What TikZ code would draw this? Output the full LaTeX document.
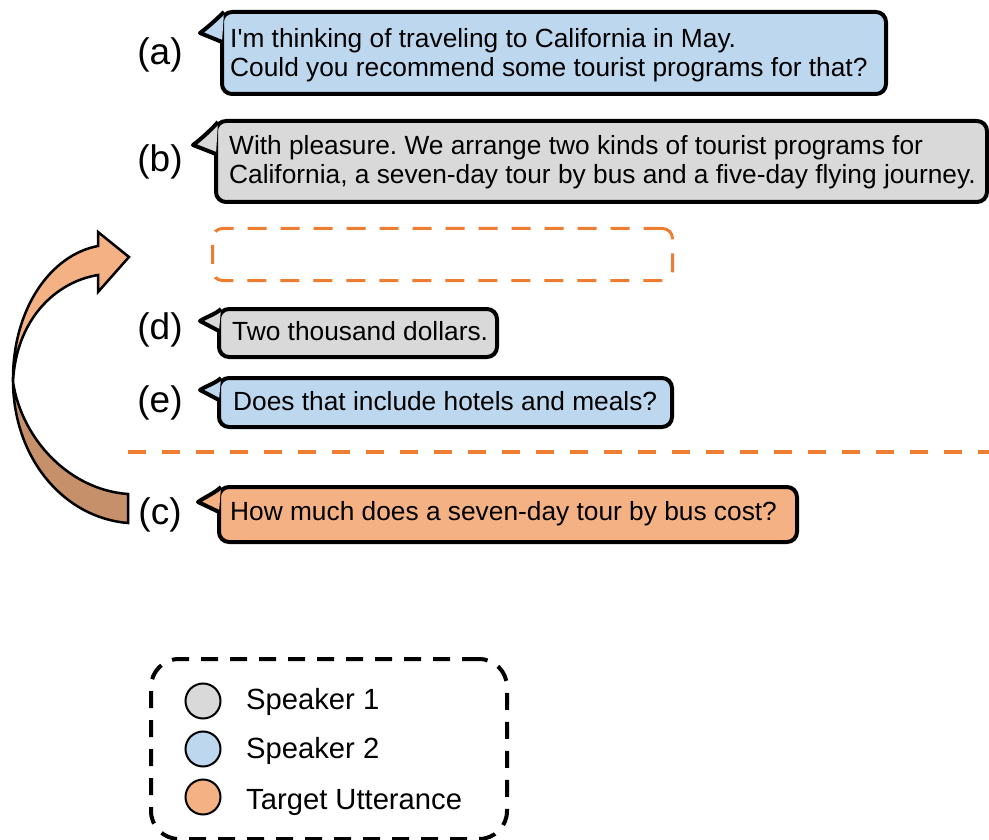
\documentclass[tikz,border=0pt]{standalone}
\usepackage{fontspec}
\setmainfont{Liberation Sans}[Ligatures=TeXOff]
\usetikzlibrary{calc}
\definecolor{spkone}{HTML}{D9D9D9}
\definecolor{spktwo}{HTML}{BDD7EE}
\definecolor{tgt}{HTML}{F4B183}
\definecolor{tgtline}{HTML}{ED7D31}
\definecolor{tgtdark}{HTML}{C5906A}
\begin{document}
\frenchspacing
\begin{tikzpicture}[x=1pt,y=-1pt,
  bubble/.style={draw=black, line width=4pt, rounded corners=10pt, anchor=north west, inner sep=0pt},
  btext/.style={anchor=base west, inner sep=0pt, align=left, font=\fontsize{26.3}{29.5}\selectfont},
  tail/.style={draw=black, line width=4pt, line join=round},
  lab/.style={font=\fontsize{37}{37}\selectfont, anchor=base, inner sep=0pt},
  slot/.style={draw=tgtline, line width=3pt, dash pattern=on 19pt off 14pt, rounded corners=10pt,
    anchor=north west, inner sep=0pt},
  sep/.style={draw=tgtline, line width=3.5pt, dash pattern=on 18pt off 16pt},
  legbox/.style={draw=black, line width=4pt, dash pattern=on 17pt off 12pt, rounded corners=28pt,
    anchor=north west, inner sep=0pt},
  dot/.style={circle, draw=black, line width=2pt, minimum size=35pt, inner sep=0pt},
  legtext/.style={font=\fontsize{29.2}{30}\selectfont, anchor=west, inner sep=0pt},
  arrowpart/.style={draw=black, line width=2.5pt, line join=miter}
]
\useasboundingbox (0,0) rectangle (989,840);

% curved arrow
\filldraw[arrowpart, fill=tgtdark] (13,382) .. controls (14,460) and (65,518) .. (128,523)
  -- (128,494) .. controls (70,490) and (22,440) .. (13,382) -- cycle;
\filldraw[arrowpart, fill=tgt] (13,382) .. controls (12,310) and (50,255) .. (98,246)
  -- (98,232) -- (129,257) -- (98,292) -- (98,275) .. controls (55,282) and (16,320) .. (13,382) -- cycle;

% bubbles
\node[bubble, fill=spktwo, minimum width=664pt, minimum height=82pt] (a) at (220,10) {};
\node[bubble, fill=spkone, minimum width=771pt, minimum height=81pt] (b) at (214,119) {};
\node[slot, minimum width=460pt, minimum height=52pt] (slot) at (211,227) {};
\node[bubble, fill=spkone, minimum width=278pt, minimum height=48pt] (d) at (217,307) {};
\node[bubble, fill=spktwo, minimum width=453pt, minimum height=49pt] (e) at (217,376) {};
\node[bubble, fill=tgt, minimum width=578pt, minimum height=55pt] (c) at (217,485) {};

% tails
\filldraw[tail, fill=spktwo] ($(a.north west)+(4,2)$) .. controls +(-6,6) and +(7,-5) .. ($(a.north west)+(-20,23)$) -- ($(a.north west)+(2,32)$);
\filldraw[tail, fill=spkone] ($(b.north west)+(4,3)$) .. controls +(-6,7) and +(7,-5) .. ($(b.north west)+(-21,26)$) -- ($(b.north west)+(2,35)$);
\filldraw[tail, fill=spkone] ($(d.north west)+(4,2)$) .. controls +(-5,5) and +(6,-4) .. ($(d.north west)+(-17,14)$) -- ($(d.north west)+(2,24)$);
\filldraw[tail, fill=spktwo] ($(e.north west)+(4,2)$) .. controls +(-5,5) and +(6,-4) .. ($(e.north west)+(-17,14)$) -- ($(e.north west)+(2,24)$);
\filldraw[tail, fill=tgt] ($(c.north west)+(4,2)$) .. controls +(-6,6) and +(7,-5) .. ($(c.north west)+(-19,17)$) -- ($(c.north west)+(2,27)$);

% bubble texts
\node[btext] (ta) at ($(a.north west)+(10,67)$)
  {I'm thinking of traveling to California in May.\\Could you recommend some tourist programs for that?};
\node[btext] (tb) at ($(b.north west)+(15,65)$)
  {With pleasure. We arrange two kinds of tourist programs for\\California, a seven-day tour by bus and a five-day flying journey.};
\node[btext] (td) at ($(d.north west)+(15,33)$) {Two thousand dollars.};
\node[btext] (te) at ($(e.north west)+(16,34)$) {Does that include hotels and meals?};
\node[btext] (tc) at ($(c.north west)+(13,35)$) {How much does a seven-day tour by bus cost?};

% labels
\node[lab] (la) at (160,65) {(a)};
\node[lab] (lb) at (160,172) {(b)};
\node[lab] (ld) at (160,339) {(d)};
\node[lab] (le) at (160,412) {(e)};
\node[lab] (lc) at (160,524) {(c)};

% separator
\coordinate (s1) at (128,452);
\coordinate (s2) at (989,452);
\draw[sep] (s1) -- (s2);

% legend
\node[legbox, minimum width=356pt, minimum height=180pt] (leg) at (149,657) {};
\node[dot, fill=spkone] (l1) at (203,701) {};
\node[dot, fill=spktwo] (l2) at (203,749) {};
\node[dot, fill=tgt] (l3) at (203,797) {};
\node[legtext] (t1) at (246,702) {Speaker 1};
\node[legtext] (t2) at (246,751) {Speaker 2};
\node[legtext] (t3) at (246,802) {Target Utterance};
\end{tikzpicture}
\end{document}
